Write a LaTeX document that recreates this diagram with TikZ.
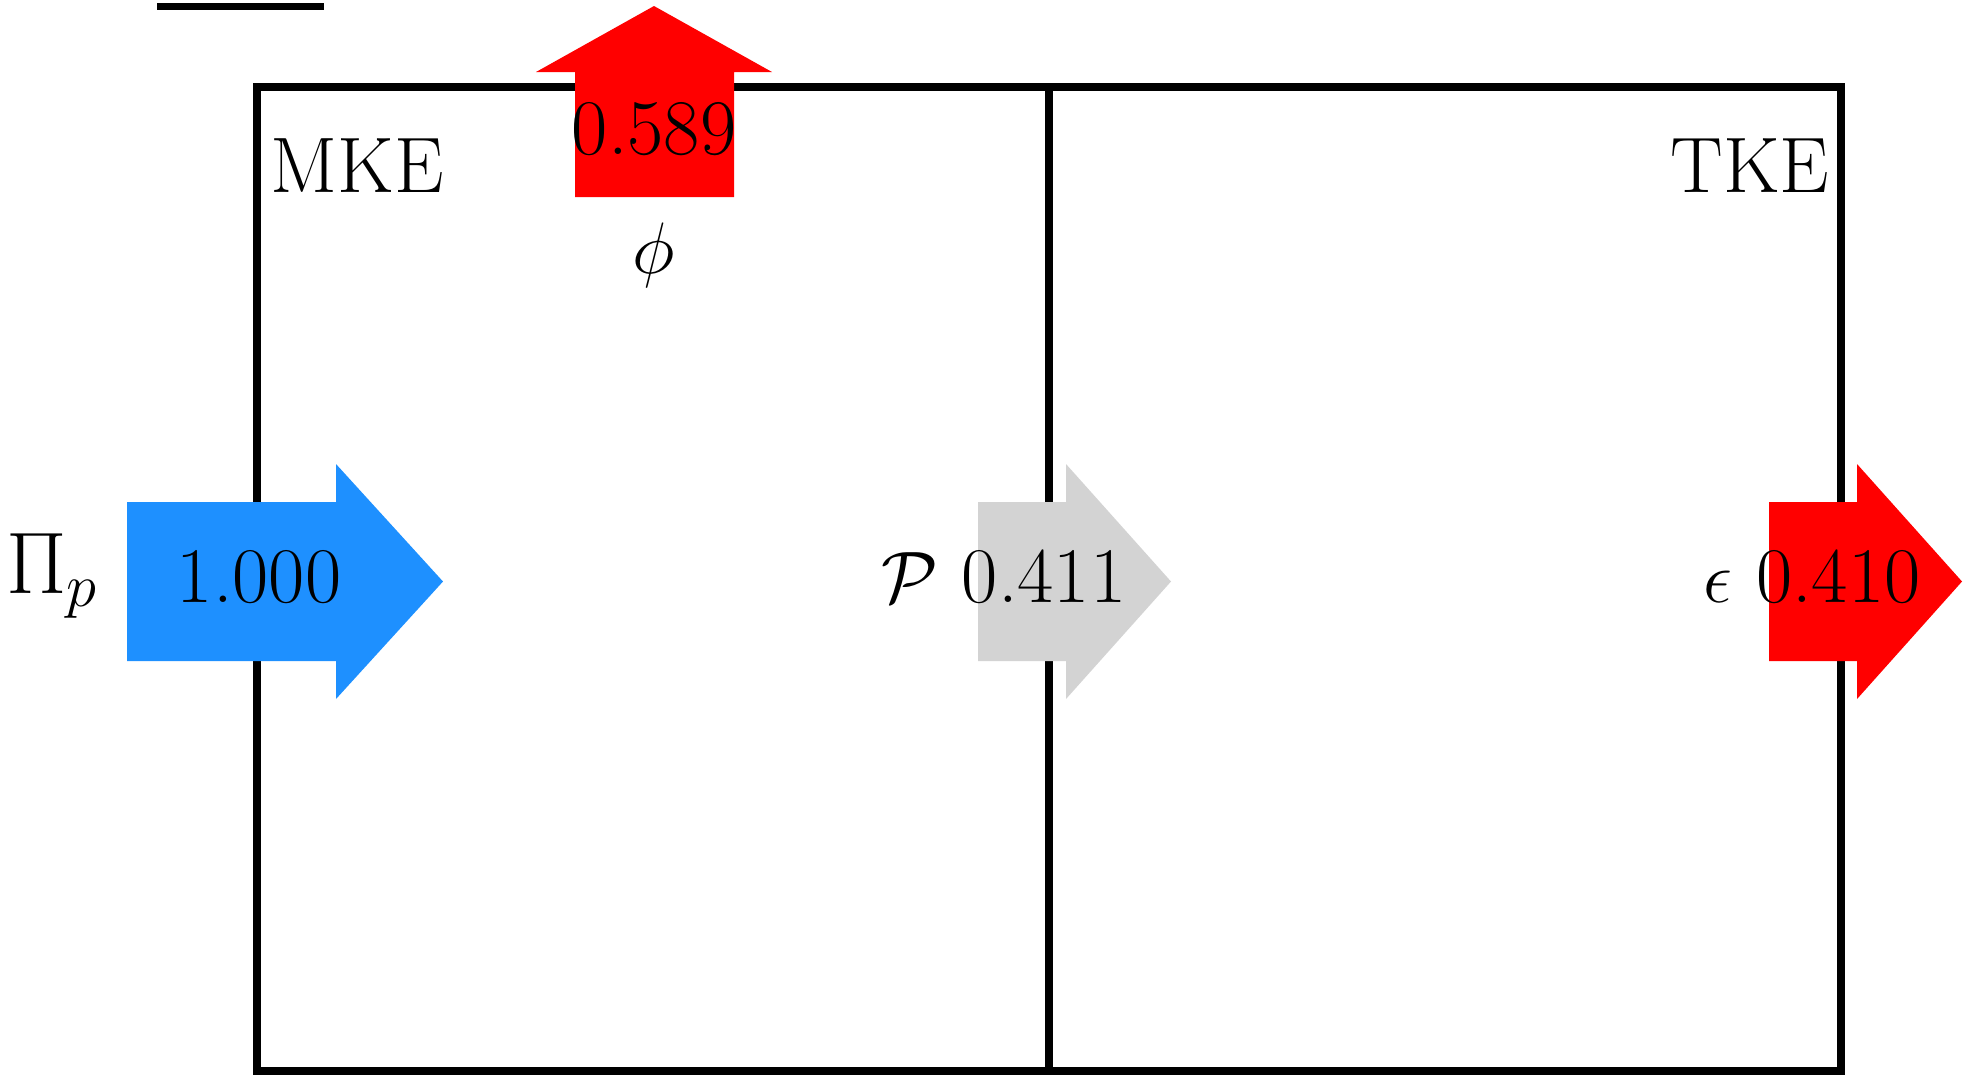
\documentclass[tikz,border=0pt]{standalone}
\definecolor{flowblue}{RGB}{30,144,255}
\definecolor{flowred}{RGB}{255,0,0}
\definecolor{flowgray}{RGB}{211,211,211}
\begin{document}
\begin{tikzpicture}[x=0.01cm,y=-0.01cm,
  boxline/.style={line width=2.4pt},
  lbl/.style={inner sep=0pt, font=\fontsize{22.4}{26}\selectfont},
  inarrow/.style={fill=flowblue},
  outarrow/.style={fill=flowred},
  transarrow/.style={fill=flowgray}]
\useasboundingbox (0,0) rectangle (1967,1075);
% stray bar at top
\draw[line width=2pt] (157,6.5) -- (324,6.5);
% energy boxes
\draw[boxline] (257,87) rectangle (1841,1071);
\draw[boxline] (1049,87) -- (1049,1071);
% arrows
\fill[inarrow] (127,502) -- (336,502) -- (336,464) -- (443,581.5) -- (336,699) -- (336,661) -- (127,661) -- cycle;
\fill[transarrow] (978,502) -- (1066,502) -- (1066,464) -- (1171,581.5) -- (1066,699) -- (1066,661) -- (978,661) -- cycle;
\fill[outarrow] (1769,502) -- (1857,502) -- (1857,464) -- (1962,581.5) -- (1857,699) -- (1857,661) -- (1769,661) -- cycle;
\fill[outarrow] (575,197) -- (575,72) -- (536,72) -- (654,6) -- (772,72) -- (734,72) -- (734,197) -- cycle;
% labels
\node[lbl] (mke) at (357,166) {MKE};
\node[lbl] (tke) at (1750,166) {TKE};
\node[lbl] (phival) at (654,129) {0.589};
\node[lbl,anchor=base] (phi) at (654,273) {$\phi$};
\node[lbl,anchor=base east] (pip) at (99,593) {\fontsize{23}{27}\selectfont$\Pi_p$};
\node[lbl] (pival) at (259,577) {1.000};
\node[lbl,anchor=base east] (prod) at (1127,602) {$\mathcal{P}$ 0.411};
\node[lbl,anchor=base east] (eps) at (1921,602) {$\epsilon$ 0.410};
\end{tikzpicture}
\end{document}
